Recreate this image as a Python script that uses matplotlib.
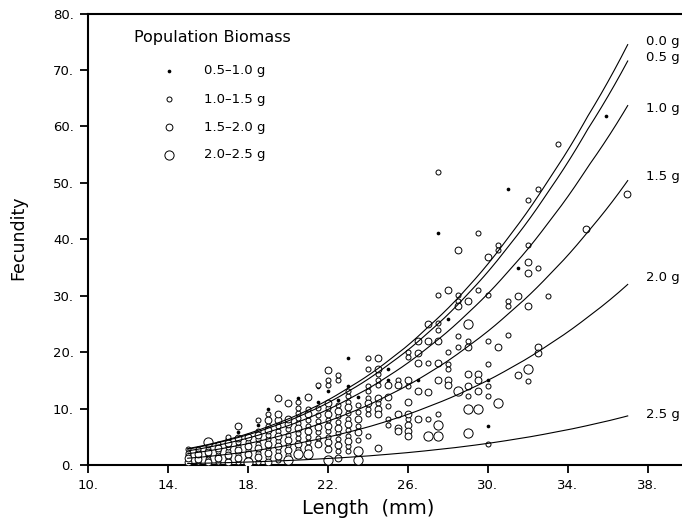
import matplotlib
matplotlib.use("Agg")
import matplotlib.pyplot as plt
import numpy as np
from matplotlib.ticker import FixedLocator, FuncFormatter

# ---------------- data ----------------
# fitted curves: length (mm) -> fecundity, one curve per population biomass
curve_length = [15, 17, 19, 21, 23, 25, 27, 29, 31, 33, 35, 37]
curve_00 = [2.9, 4.5, 6.8, 9.7, 13.6, 18.4, 24.4, 31.5, 40.2, 50.3, 61.8, 74.5]
curve_05 = [2.8, 4.4, 6.5, 9.3, 13.0, 17.7, 23.4, 30.3, 38.6, 48.3, 59.5, 71.6]
curve_10 = [2.5, 3.9, 5.8, 8.3, 11.6, 15.7, 20.8, 26.9, 34.2, 42.8, 52.8, 63.7]
curve_15 = [2.0, 3.1, 4.6, 6.6, 9.1, 12.3, 16.2, 21.0, 26.7, 33.4, 41.3, 50.4]
curve_20 = [1.2, 1.9, 2.9, 4.2, 5.8, 7.8, 10.3, 13.3, 16.9, 21.2, 26.2, 32.0]
curve_25 = [0.26, 0.42, 0.65, 0.96, 1.36, 1.89, 2.55, 3.36, 4.36, 5.57, 7.0, 8.7]
curve_names = ["0.0 g", "0.5 g", "1.0 g", "1.5 g", "2.0 g", "2.5 g"]

# observed fish: (length, fecundity) per biomass class
obs_05_10 = [(17.5, 5.9), (18.5, 7.1), (19.0, 9.9), (20.5, 11.9), (21.5, 11.1), (21.5, 13.9),
             (22.0, 13.1), (22.5, 11.6), (23.0, 14.0), (23.0, 18.9), (23.5, 12.1), (25.0, 17.1),
             (25.0, 15.1), (26.5, 15.1), (27.5, 41.1), (28.0, 25.9), (30.0, 15.0), (30.0, 6.9),
             (31.0, 48.9), (31.5, 35.0), (35.9, 61.9)]

small_cols = {
    15.0: [0.9, 1.8, 2.2, 2.8], 15.5: [0.5, 1.5, 2.5, 2.9], 16.0: [1.1, 1.7, 2.9],
    16.5: [0.6, 1.8, 2.4, 3.7], 17.0: [1.2, 2.5, 3.2, 4.6, 5.0], 17.5: [0.6, 2.0, 3.4, 4.1],
    18.0: [1.3, 2.7, 4.1], 18.5: [0.6, 2.2, 3.8, 4.6, 6.0, 8.0],
    19.0: [1.4, 3.0, 4.6, 5.4, 7.0, 9.0], 19.5: [0.8, 2.5, 4.3, 6.1, 7.0],
    20.0: [1.8, 3.6, 5.4, 6.3], 20.5: [2.9, 4.7, 5.6, 7.4, 8.3, 9.2, 10.1, 11.1],
    21.0: [4.0, 5.0, 7.0, 8.0, 10.0], 21.5: [4.8, 5.8, 7.8, 8.8, 10.1, 14.1],
    22.0: [5.0, 6.0, 8.0, 10.1, 14.2, 15.1], 22.5: [2.5, 4.6, 5.6, 7.6, 8.6, 10.6, 15.1, 16.0],
    23.0: [2.5, 3.4, 5.2, 6.2, 8.2, 9.2, 11.2, 12.2, 13.1], 23.5: [4.5, 7.0, 9.4, 10.6],
    24.0: [19.0, 17.0, 14.0, 13.1, 11.9, 10.0, 9.0, 5.1], 24.5: [16.1, 15.0, 14.1, 11.0],
    25.0: [10.4, 8.2, 7.1], 25.5: [15.1], 26.0: [20.0, 19.1, 14.0, 8.2], 27.0: [18.0, 8.2],
    27.5: [30.1, 25.1, 23.9, 9.0, 51.9], 28.0: [20.0, 17.9, 17.1],
    28.5: [30.1, 29.0, 22.9, 20.9], 29.0: [22.0, 12.2], 29.5: [41.1, 31.0],
    30.0: [30.1, 22.0, 17.9, 14.0, 12.2, 3.8], 30.5: [39.0, 38.1], 31.0: [29.0, 28.1, 23.0],
    32.0: [46.9, 39.0, 14.9], 32.5: [48.9, 35.0], 33.0: [30.0], 33.5: [56.9],
}
obs_10_15 = [(x, y) for x, ys in small_cols.items() for y in ys]

medium_cols = {
    15.0: [0.5, 1.3], 15.5: [1.0, 2.0], 16.0: [0.6, 2.3], 16.5: [1.2, 3.0],
    17.0: [0.6, 1.8, 3.9], 17.5: [1.3, 2.7, 4.8, 7.0], 18.0: [2.0, 3.4, 4.9],
    18.5: [1.4, 3.0, 5.3], 19.0: [0.6, 2.2, 3.8, 6.2, 8.0],
    19.5: [1.6, 3.4, 5.2, 8.0, 9.1, 11.9], 20.0: [2.7, 4.5, 7.2, 8.1, 10.9],
    20.5: [3.8, 6.5], 21.0: [3.0, 6.0, 9.0, 12.0], 21.5: [3.8, 6.8],
    22.0: [2.8, 4.0, 7.0, 9.0, 11.0, 16.9], 22.5: [1.2, 3.5, 6.6, 9.6],
    23.0: [4.3, 7.2, 10.2], 23.5: [5.8, 8.2], 24.0: [11.0],
    24.5: [19.0, 17.0, 11.9, 10.0, 9.1, 3.0], 25.0: [14.2, 12.1],
    25.5: [14.2, 9.0, 6.6, 6.0], 26.0: [15.0, 11.2, 9.0, 7.1, 6.0, 5.1],
    26.5: [22.0, 19.9, 18.0, 13.1, 8.2], 27.0: [25.0, 22.0, 13.0],
    27.5: [22.0, 18.0, 15.1], 28.0: [31.0, 15.1, 14.1], 28.5: [38.1, 28.1],
    29.0: [29.0, 20.9, 16.1, 14.0], 29.5: [16.1, 15.0, 13.1], 30.0: [36.9],
    30.5: [20.9], 31.5: [30.0, 15.9], 32.0: [36.0, 34.1, 28.1], 32.5: [21.0, 19.9],
    34.9: [41.9], 36.95: [48.0],
}
obs_15_20 = [(x, y) for x, ys in medium_cols.items() for y in ys]

obs_20_25 = [(16.0, 4.0), (18.0, 0.6), (20.0, 0.9), (20.5, 2.0), (21.0, 2.0), (22.0, 0.9),
             (23.5, 0.9), (23.5, 2.4), (27.0, 5.1), (27.5, 7.1), (27.5, 5.1), (28.5, 13.1),
             (29.0, 25.0), (29.0, 10.0), (29.0, 5.6), (29.5, 10.0), (30.5, 11.0), (32.0, 17.0)]

class_labels = ["0.5\u20131.0 g", "1.0\u20131.5 g", "1.5\u20132.0 g", "2.0\u20132.5 g"]
x_ticks = [10, 14, 18, 22, 26, 30, 34, 38]
y_ticks = [0, 10, 20, 30, 40, 50, 60, 70, 80]

# ---------------- plot ----------------
plt.rcParams['font.family'] = ['DejaVu Sans']
fig = plt.figure(figsize=(6.82, 5.21), dpi=100)
ax = fig.add_axes([87.7 / 682, 56 / 521, 1 - 87.7 / 682, (465 - 13.6) / 521])

sizes = [7, 13, 24, 44]
lw = 0.7
for i, data in enumerate([obs_05_10, obs_10_15, obs_15_20, obs_20_25]):
    xs = [p[0] for p in data]
    ys = [p[1] for p in data]
    if i == 0:
        ax.scatter(xs, ys, s=sizes[i], c='black', marker='o', linewidths=0, zorder=3)
    else:
        ax.scatter(xs, ys, s=sizes[i], facecolors='white', edgecolors='black',
                   linewidths=lw, zorder=3)

for cv in [curve_00, curve_05, curve_10, curve_15, curve_20, curve_25]:
    xs = np.array(curve_length, dtype=float)
    # smooth drawing through the read points
    xf = np.linspace(xs[0], xs[-1], 200)
    yf = np.exp(np.interp(xf, xs, np.log(cv)))
    ax.plot(xf, yf, color='black', lw=0.8, zorder=4)

label_y = [75.0, 72.3, 63.1, 51.1, 33.3, 9.0]
for name, ly in zip(curve_names, label_y):
    ax.text(37.9, ly, name, fontsize=9.5, va='center', ha='left')

# legend (manual)
ax.text(12.3, 75.8, "Population Biomass", fontsize=11.5, va='center', ha='left')
leg_y = [69.9, 64.8, 59.9, 55.0]
for i, (lab, ly) in enumerate(zip(class_labels, leg_y)):
    if i == 0:
        ax.scatter([14.08], [ly], s=sizes[i], c='black', linewidths=0)
    else:
        ax.scatter([14.08], [ly], s=sizes[i], facecolors='white', edgecolors='black',
                   linewidths=lw)
    ax.text(15.8, ly, lab, fontsize=9.5, va='center', ha='left')

ax.set_xlim(10, 10 + (682 - 87.7) / 20)
ax.set_ylim(0, 80)
ax.xaxis.set_major_locator(FixedLocator(x_ticks))
ax.yaxis.set_major_locator(FixedLocator(y_ticks))
fmt = FuncFormatter(lambda v, p: f"{v:.0f}.")
ax.xaxis.set_major_formatter(fmt)
ax.yaxis.set_major_formatter(fmt)
ax.tick_params(direction='out', length=6, width=1.3, labelsize=9.5, pad=4)
for side in ['left', 'bottom', 'top']:
    ax.spines[side].set_linewidth(1.5)
ax.spines['right'].set_visible(False)

fig.text(368 / 682, 1 - 508 / 521, "Length  (mm)", fontsize=14, ha='center', va='center')
fig.text(18 / 682, 1 - 238 / 521, "Fecundity", fontsize=12.5, ha='center', va='center',
         rotation=90)

fig.savefig("out.png", dpi=100)
